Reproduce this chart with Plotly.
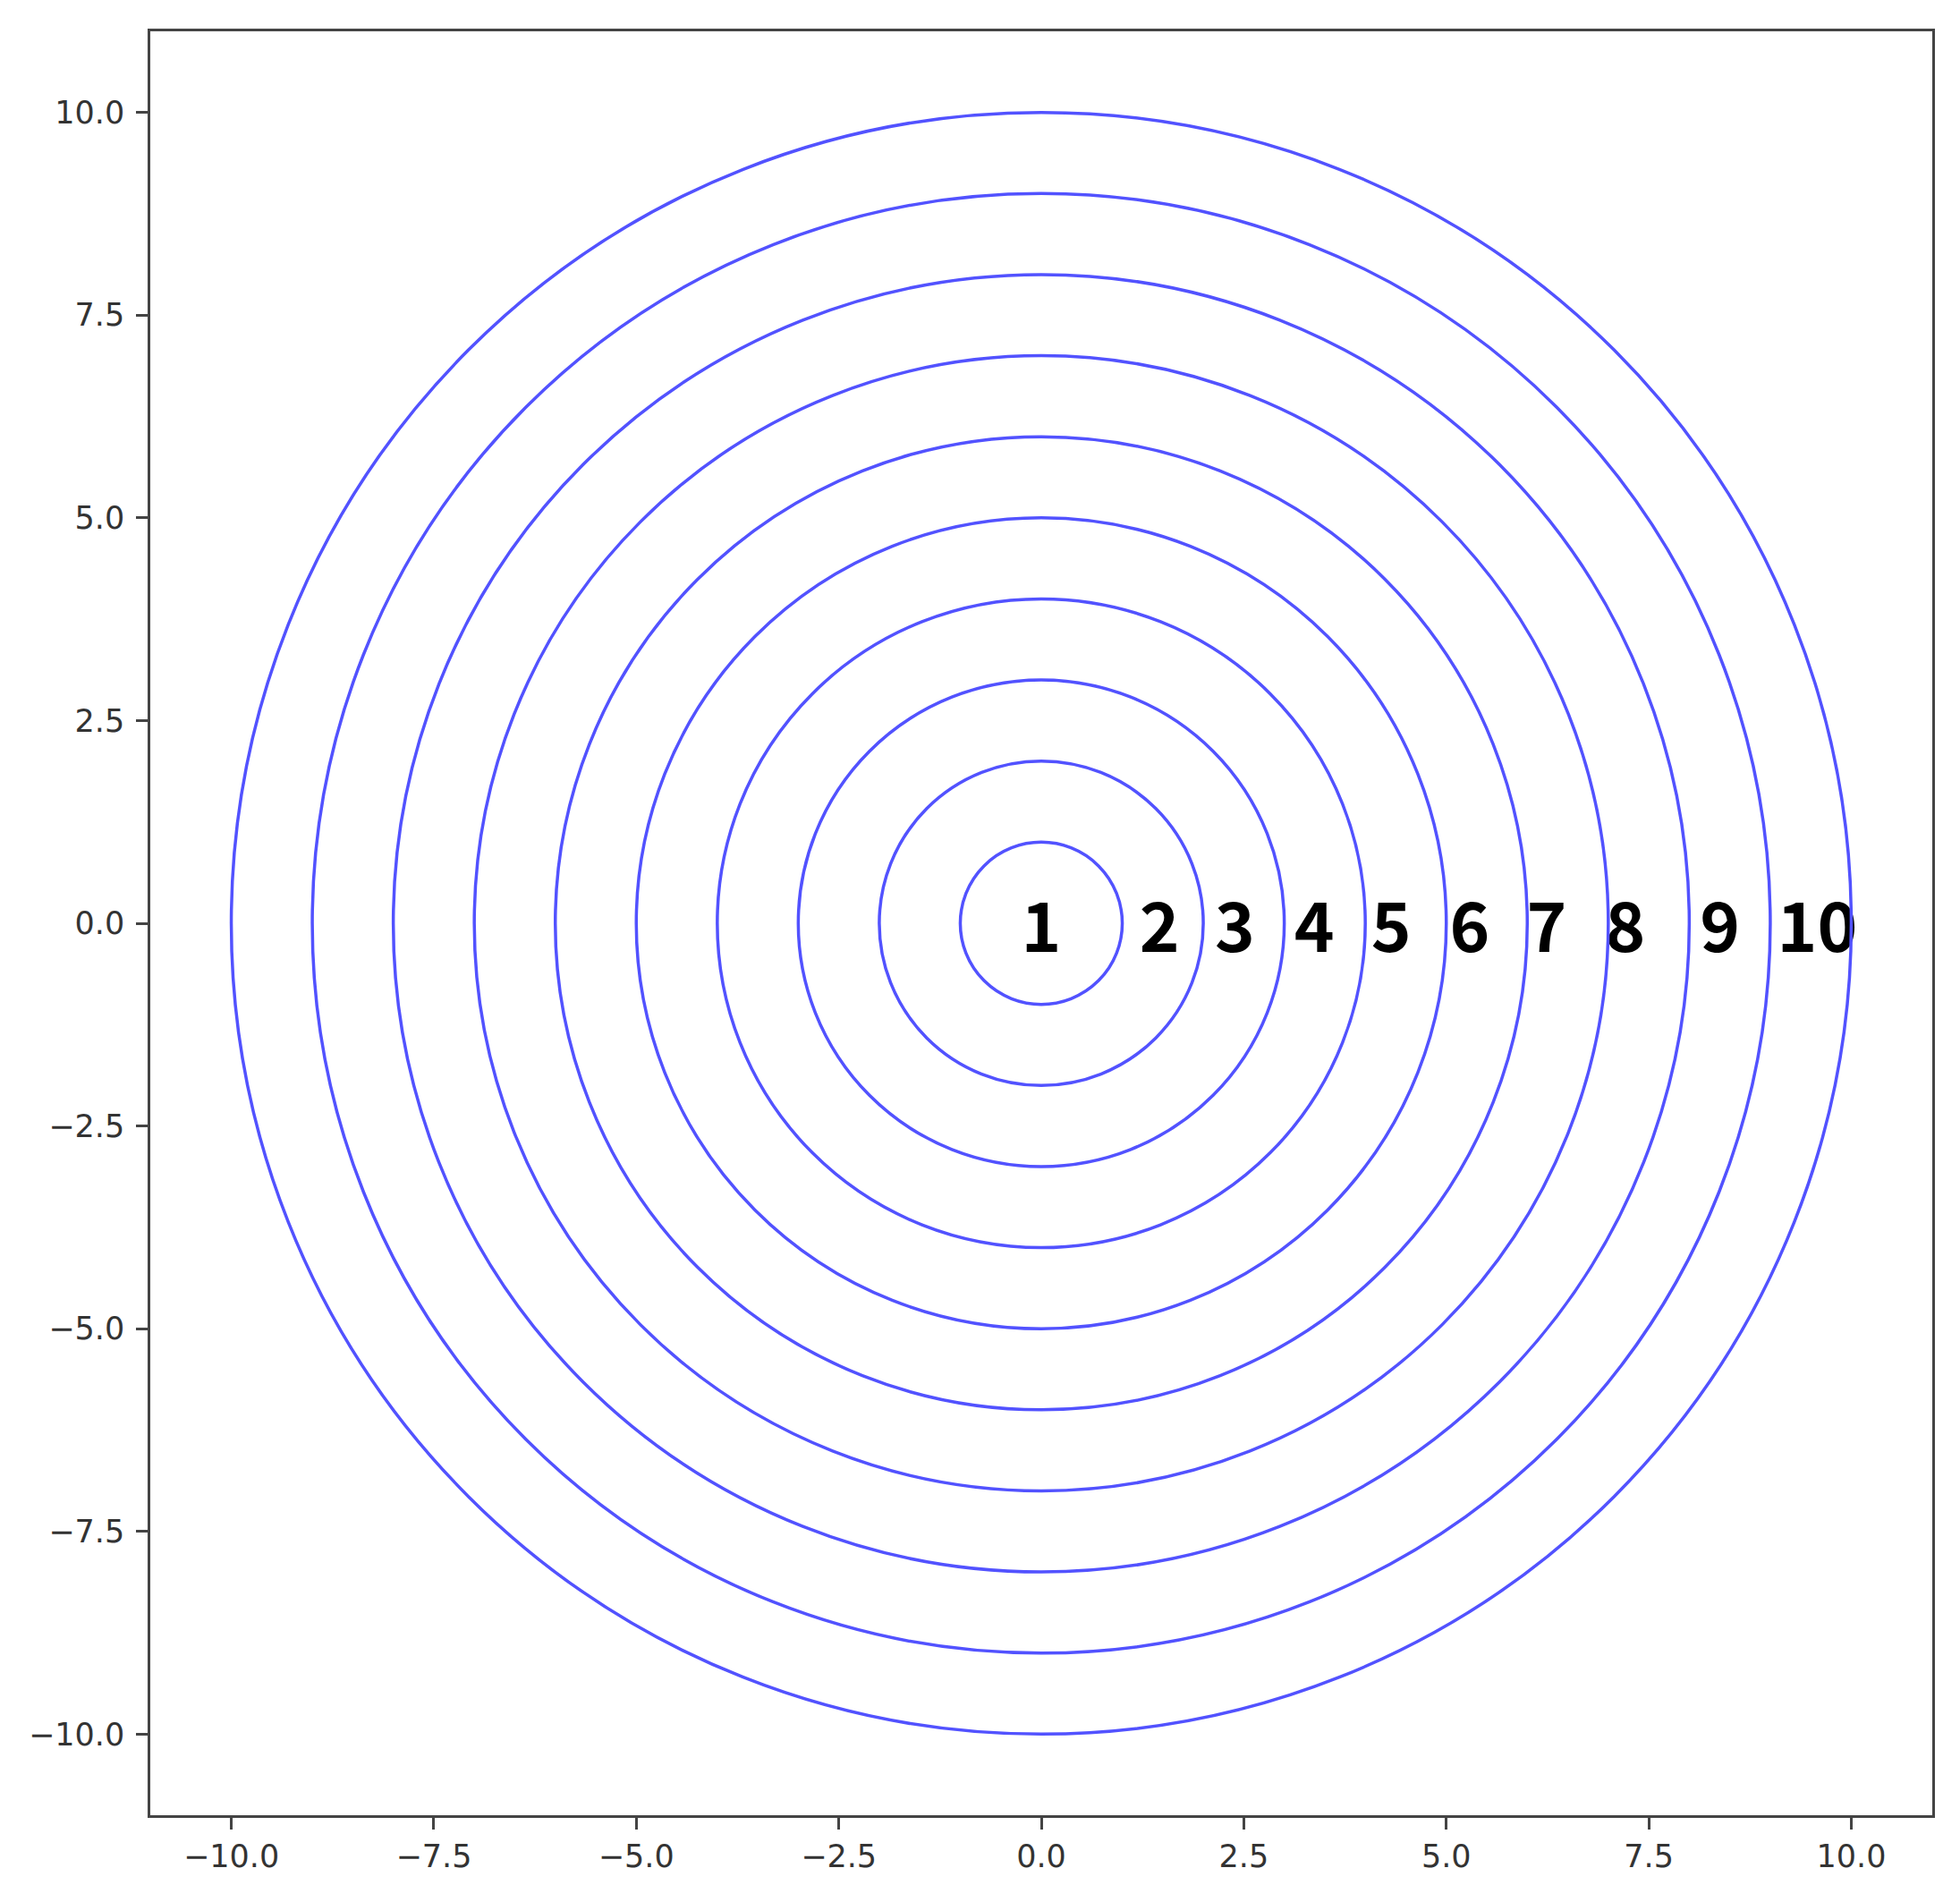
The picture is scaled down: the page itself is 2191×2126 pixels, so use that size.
import plotly.graph_objects as go

# concentric rings, radius 1..10, centred on the origin
radii = [1, 2, 3, 4, 5, 6, 7, 8, 9, 10]
labels = ["1", "2", "3", "4", "5", "6", "7", "8", "9", "10"]
label_x = [0.0, 1.46, 2.39, 3.37, 4.32, 5.29, 6.24, 7.21, 8.38, 9.58]
label_y = [-0.14] * 10

tick_vals = [-10, -7.5, -5, -2.5, 0, 2.5, 5, 7.5, 10]
tick_text = [f"{v:.1f}".replace("-", "\u2212") for v in tick_vals]

fig = go.Figure()

# rings as shapes in data coordinates
for r in radii:
    fig.add_shape(
        type="circle", xref="x", yref="y",
        x0=-r, y0=-r, x1=r, y1=r,
        line=dict(color="rgb(82,82,255)", width=3.5),
    )

# ring numbers
fig.add_trace(go.Scatter(
    x=label_x, y=label_y, mode="text", text=labels,
    textposition="middle center",
    textfont=dict(family="Noto Sans CJK SC", size=76, color="black", weight="bold"),
    showlegend=False, hoverinfo="skip",
))

axis_style = dict(
    range=[-11, 11],
    tickvals=tick_vals, ticktext=tick_text,
    showgrid=False, zeroline=False,
    showline=True, linecolor="#444", linewidth=2.5, mirror=True,
    ticks="outside", ticklen=13, tickwidth=2.5, tickcolor="#444",
    tickfont=dict(family="DejaVu Sans", size=35, color="#333"),
)
fig.update_xaxes(**axis_style)
fig.update_yaxes(ticklabelstandoff=6, **axis_style)

# page body adds 8px, so the figure is a bit smaller than the window
fig.update_layout(
    width=2175, height=2110,
    margin=dict(l=160, r=23, t=27, b=89),
    plot_bgcolor="white", paper_bgcolor="white",
)

fig.write_html("out.html")
